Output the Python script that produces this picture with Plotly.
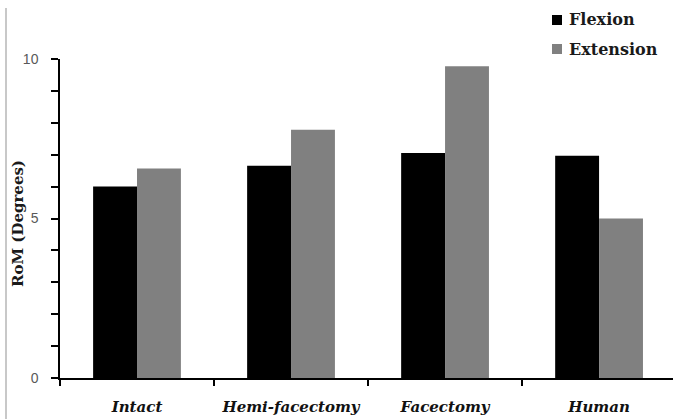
import plotly.graph_objects as go

categories = ["Intact", "Hemi-facectomy", "Facectomy", "Human"]
flexion = [6.0, 6.65, 7.05, 6.97]
extension = [6.57, 7.78, 9.77, 5.0]
y_ticks = [0, 5, 10]
series_names = ["Flexion", "Extension"]
series_colors = ["#000000", "#808080"]

serif = "DejaVu Serif"
cat_labels = [f"<b><i>{c}</i></b>" for c in categories]

L, T, W, H = 60, 59, 613, 319  # plot area in px


def px_x(x):
    return (x - L) / W


def px_y(y):
    return (T + H - y) / H


fig = go.Figure()
for name, vals, col in zip(series_names, [flexion, extension], series_colors):
    fig.add_trace(go.Bar(name=name, x=cat_labels, y=vals,
                         marker=dict(color=col, line=dict(width=0))))

# manual legend (squares + labels)
shapes = []
annotations = []
for i, (name, col) in enumerate(zip(series_names, series_colors)):
    yc = 20 + 29 * i
    shapes.append(dict(type="rect", xref="paper", yref="paper",
                       x0=px_x(552), x1=px_x(562), y0=px_y(yc + 5), y1=px_y(yc - 5),
                       fillcolor=col, line=dict(width=0)))
    annotations.append(dict(text=f"<b>{name}</b>", xref="paper", yref="paper",
                            x=px_x(567), y=px_y(yc), xanchor="left", yanchor="middle",
                            showarrow=False,
                            font=dict(family=serif, size=16, color="#1a1a1a")))

annotations.append(dict(text="<b>RoM (Degrees)</b>", textangle=-90, xref="paper", yref="paper",
                        x=px_x(18), y=px_y(224), xanchor="center", yanchor="middle",
                        showarrow=False,
                        font=dict(family=serif, size=15, color="#1a1a1a")))
shapes.append(dict(type="line", xref="paper", yref="paper", x0=px_x(6), x1=px_x(6),
                   y0=px_y(8), y1=px_y(425), line=dict(color="#c8c8c8", width=2)))

fig.update_layout(
    width=673, height=419,
    margin=dict(l=L, r=673 - L - W, t=T, b=419 - T - H, autoexpand=False),
    paper_bgcolor="white", plot_bgcolor="white",
    barmode="group", bargap=0.43, bargroupgap=0,
    showlegend=False,
    xaxis=dict(range=[-0.5, 3.48], showline=True, linecolor="#000", linewidth=1.5,
               ticks="outside", tickson="boundaries", ticklen=6, tickcolor="#000",
               tickwidth=1.5, showgrid=False, zeroline=False, ticklabelstandoff=14,
               tickfont=dict(family=serif, size=15, color="#111")),
    yaxis=dict(range=[0, 10], tickvals=y_ticks, showline=True, linecolor="#000",
               linewidth=1.5, ticks="outside", ticklen=7, tickcolor="#000", tickwidth=1.5,
               showgrid=False, zeroline=False, ticklabelstandoff=10,
               tickfont=dict(family="Liberation Sans", size=14, color="#595959"),
               minor=dict(dtick=1, ticks="outside", ticklen=7, tickcolor="#000", tickwidth=1.5,
                          showgrid=False)),
    annotations=annotations,
    shapes=shapes,
)

fig.write_html("out.html", config={"displayModeBar": False},
               post_script="document.body.style.margin='0';document.body.style.overflow='hidden';")
